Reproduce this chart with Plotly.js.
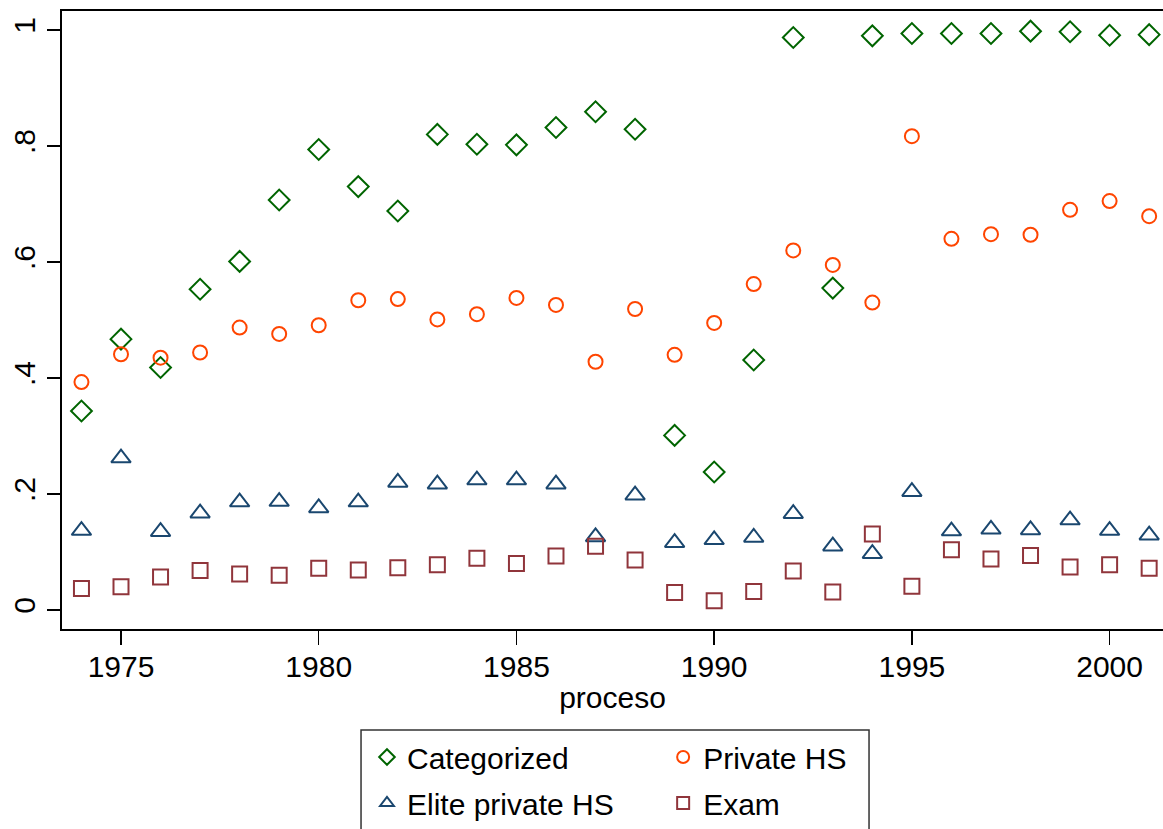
<!DOCTYPE html>
<html>
<head>
<meta charset="utf-8">
<script src="https://cdn.plot.ly/plotly-3.0.1.min.js"></script>
<style>html,body{margin:0;padding:0;background:#fff;}#chart{width:1163px;height:829px;}</style>
</head>
<body>
<div id="chart"></div>
<script>
const years = [1974,1975,1976,1977,1978,1979,1980,1981,1982,1983,1984,1985,1986,1987,1988,1989,1990,1991,1992,1993,1994,1995,1996,1997,1998,1999,2000,2001];
const categorized = [0.343,0.467,0.418,0.553,0.601,0.707,0.794,0.730,0.688,0.820,0.803,0.802,0.832,0.859,0.829,0.301,0.238,0.431,0.987,0.555,0.990,0.994,0.994,0.994,0.998,0.997,0.991,0.992];
const privateHS = [0.393,0.441,0.435,0.444,0.487,0.476,0.491,0.534,0.536,0.501,0.510,0.538,0.526,0.428,0.519,0.440,0.495,0.562,0.620,0.595,0.530,0.817,0.640,0.648,0.647,0.690,0.705,0.679];
const elitePrivateHS = [0.137,0.262,0.135,0.167,0.186,0.187,0.176,0.186,0.220,0.217,0.224,0.224,0.217,0.126,0.198,0.116,0.121,0.125,0.166,0.110,0.097,0.204,0.136,0.139,0.138,0.155,0.137,0.129];
const exam = [0.037,0.040,0.057,0.068,0.062,0.060,0.072,0.069,0.073,0.078,0.089,0.080,0.093,0.110,0.086,0.030,0.016,0.032,0.067,0.031,0.131,0.041,0.104,0.088,0.094,0.074,0.078,0.072];
const yTickVals = [0,0.2,0.4,0.6,0.8,1];
const yTickText = ['0','.2','.4','.6','.8','1'];
const xTickVals = [1975,1980,1985,1990,1995,2000];

const FONT = 'Liberation Sans, Arial, Helvetica, sans-serif';
function tr(name, y, symbol, color, size, legend) {
  return {
    type: 'scatter', mode: 'markers', name: name, x: years, y: y,
    legend: legend, legendgroup: name, cliponaxis: false,
    marker: {symbol: symbol, size: size, color: color, line: {color: color, width: 2}}
  };
}
const data = [
  tr('Categorized', categorized, 'diamond-open', '#006400', 16, 'legend'),
  tr('Elite private HS', elitePrivateHS, 'triangle-up-open', '#1A476F', 17, 'legend'),
  tr('Private HS', privateHS, 'circle-open', '#FF4500', 14, 'legend2'),
  tr('Exam', exam, 'square-open', '#90353B', 15, 'legend2')
];
const legendCommon = {
  orientation: 'v', xanchor: 'left', yanchor: 'top',
  bgcolor: 'rgba(0,0,0,0)', borderwidth: 0,
  font: {family: FONT, size: 30, color: '#000'},
  tracegroupgap: 4, itemsizing: 'constant'
};
const layout = {
  width: 1163, height: 829,
  margin: {l: 62, r: 0, t: 11, b: 200},
  paper_bgcolor: '#fff', plot_bgcolor: '#fff',
  showlegend: true,
  font: {family: FONT, color: '#000'},
  xaxis: {
    range: [1973.508, 2001.35], tickvals: xTickVals, ticktext: xTickVals.map(String),
    ticks: 'outside', ticklen: 14, tickwidth: 1.5, tickcolor: '#000',
    showline: true, linecolor: '#000', linewidth: 2, mirror: true,
    showgrid: false, zeroline: false, ticklabelstandoff: -4,
    tickfont: {family: FONT, size: 30, color: '#000'},
    title: {text: 'proceso', font: {family: FONT, size: 30, color: '#000'}, standoff: 5}
  },
  yaxis: {
    range: [-0.0328, 1.0328], tickvals: yTickVals, ticktext: yTickText,
    ticks: 'outside', ticklen: 13, tickwidth: 1.5, tickcolor: '#000', tickangle: -90,
    showline: true, linecolor: '#000', linewidth: 2,
    showgrid: false, zeroline: false,
    tickfont: {family: FONT, size: 30, color: '#000'}
  },
  legend: Object.assign({}, legendCommon, {x: 0.277, y: -0.165}),
  legend2: Object.assign({}, legendCommon, {x: 0.546, y: -0.165}),
  shapes: [{
    type: 'rect', xref: 'paper', yref: 'paper',
    x0: 0.2716, x1: 0.733, y0: -0.1634, y1: -0.36,
    line: {color: '#333', width: 1.5}, fillcolor: 'rgba(0,0,0,0)'
  }]
};
Plotly.newPlot('chart', data, layout, {displayModeBar: false, staticPlot: true});
</script>
</body>
</html>
